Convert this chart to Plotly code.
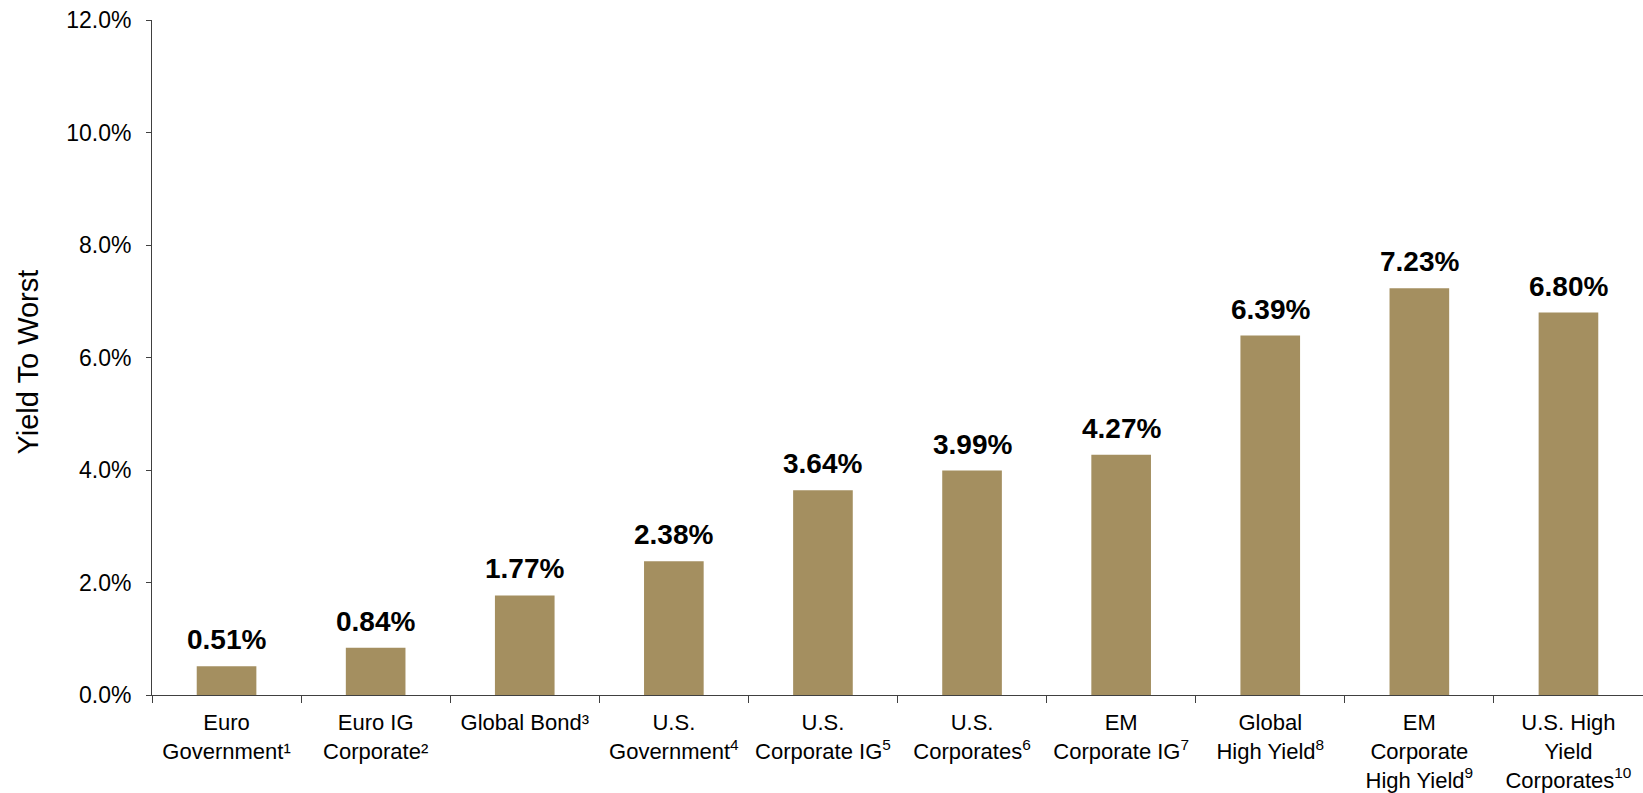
import plotly.graph_objects as go

# Index yield-to-worst by sector (%)
categories = [
    "Euro<br>Government¹",
    "Euro IG<br>Corporate²",
    "Global Bond³",
    "U.S.<br>Government<sup>4</sup>",
    "U.S.<br>Corporate IG<sup>5</sup>",
    "U.S.<br>Corporates<sup>6</sup>",
    "EM<br>Corporate IG<sup>7</sup>",
    "Global<br>High Yield<sup>8</sup>",
    "EM<br>Corporate<br>High Yield<sup>9</sup>",
    "U.S. High<br>Yield<br>Corporates<sup>10</sup>",
]
yields = [0.51, 0.84, 1.77, 2.38, 3.64, 3.99, 4.27, 6.39, 7.23, 6.80]
y_ticks = [0, 2, 4, 6, 8, 10, 12]

BAR_COLOR = "rgb(164,143,96)"
AXIS_COLOR = "#404040"
FONT = "Liberation Sans, Arial, sans-serif"

fig = go.Figure(
    go.Bar(
        x=categories,
        y=yields,
        marker=dict(color=BAR_COLOR, line=dict(width=0)),
        width=0.4,
        hoverinfo="skip",
    )
)

# value labels above each bar
for cat, val in zip(categories, yields):
    fig.add_annotation(
        x=cat, y=val, xref="x", yref="y",
        text=f"<b>{val:.2f}%</b>",
        showarrow=False, yanchor="bottom", yshift=9,
        font=dict(family=FONT, size=28, color="black"),
    )

# rotated axis title
fig.add_annotation(
    xref="paper", yref="paper", x=0, y=0.5,
    xshift=-125, yshift=-5,
    text="Yield To Worst", textangle=-90, showarrow=False,
    xanchor="center", yanchor="middle",
    font=dict(family=FONT, size=29, color="black"),
)

fig.update_layout(
    width=1643, height=793,
    margin=dict(l=152, r=0, t=20, b=98, autoexpand=False),
    paper_bgcolor="white", plot_bgcolor="white",
    showlegend=False,
    font=dict(family=FONT, color="black"),
    bargap=0.6,
)
fig.update_xaxes(
    automargin=False,
    showline=True, linecolor=AXIS_COLOR, linewidth=1,
    ticks="outside", ticklen=7, tickcolor=AXIS_COLOR, tickson="boundaries",
    ticklabelstandoff=8,
    tickfont=dict(family=FONT, size=22, color="black"),
    showgrid=False, zeroline=False, tickangle=0,
)
fig.update_yaxes(
    automargin=False,
    range=[0, 12], tickvals=y_ticks,
    ticktext=[f"{v:.1f}%" for v in y_ticks],
    showline=True, linecolor=AXIS_COLOR, linewidth=1,
    ticks="outside", ticklen=5, tickcolor=AXIS_COLOR,
    ticklabelstandoff=10,
    tickfont=dict(family=FONT, size=23, color="black"),
    showgrid=False, zeroline=False,
)

fig.write_html("out.html")
